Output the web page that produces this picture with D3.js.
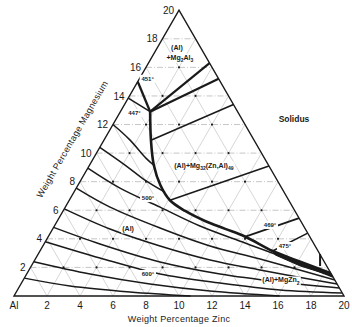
<!DOCTYPE html>
<html>
<head>
<meta charset="utf-8">
<script src="https://cdn.jsdelivr.net/npm/d3@7"></script>
<style>
  html, body { margin: 0; padding: 0; background: #fff; }
  svg { display: block; font-family: "Liberation Sans", Arial, sans-serif; }
</style>
</head>
<body>
<svg id="chart" width="352" height="327"></svg>
<script>
// Al-Zn-Mg aluminium corner: solidus projection, Zn and Mg in weight percent.
const zincTicks = [2, 4, 6, 8, 10, 12, 14, 16, 18, 20];
const magnesiumTicks = [2, 4, 6, 8, 10, 12, 14, 16, 18, 20];
const gridSteps = [2, 4, 6, 8, 10, 12, 14, 16, 18];

// Solidus isotherms in the (Al) field, [Zn, Mg] pairs, lowest first
const isotherm1 = [[0, 1.25], [3.04, 0.70], [6.89, 0.28], [10.7, 0]];
const isotherm2 = [[0, 2.4], [3.84, 1.54], [7.82, 0.84], [11.7, 0.35], [16.1, 0]];
const isotherm3 = [[0, 3.8], [3.88, 2.66], [8.08, 1.54], [12.03, 0.91], [15.91, 0.42], [19.77, 0.21]];
const isotherm4 = [[0, 4.8], [3.39, 3.64], [7.66, 2.38], [11.72, 1.54], [15.63, 0.98], [19.42, 0.56]];
const isotherm5 = [[0, 6.1], [3.47, 4.69], [7.10, 3.50], [10.62, 2.52], [14.0, 1.82], [19.16, 0.84]];
const isotherm6 = [[0, 7.55], [2.71, 6.22], [6.47, 4.76], [10.13, 3.50], [13.62, 2.59], [18.89, 1.12]];
const isotherm7 = [[0, 8.95], [2.65, 7.55], [5.74, 6.22], [8.82, 4.90], [12.15, 3.71], [14.72, 2.80], [18.67, 1.33]];
const isotherm8 = [[0, 10.4], [2.15, 9.16], [3.88, 8.11], [5.51, 7.27]];
const isotherm9 = [[0, 12.0], [1.58, 10.91], [3.17, 9.65], [3.9, 9.15]];
const isotherm10 = [[0, 13.85], [1.8, 12.9]];
const isotherms = [isotherm1, isotherm2, isotherm3, isotherm4, isotherm5,
                   isotherm6, isotherm7, isotherm8, isotherm9, isotherm10];

// Boundary of the (Al) field: 451° on the Al-Mg side, 447° ternary point, then down to the Zn side
const fieldEdge451 = [[0, 15], [1.8, 12.9]];
const fieldBoundary = [[1.8, 12.9], [2.85, 10.9], [3.9, 9.15], [5.0, 7.75], [6.1, 6.7], [7.4, 5.95],
                       [8.95, 5.25], [10.45, 4.7], [11.95, 4.15], [14.1, 3.15], [16.15, 2.4], [18.4, 1.6]];
// Eutectic trough near the Zn side
const troughBand = [[14.1, 3.15], [16.15, 2.4], [18.4, 1.6], [18.6, 1.4], [16.3, 2.1], [14.4, 2.87]];
const troughSpike = [[17.08, 2.94], [17.5, 2.1]];

// Tie lines of the (Al)+Mg32(Zn,Al)49 field: start, end and stroke weight
const tieStarts = [[1.8, 12.9], [1.8, 12.9], [2.85, 10.9], [6.1, 6.7], [11.95, 4.15], [14.1, 3.15]];
const tieEnds = [[3.7, 16.3], [4.8, 15.2], [6.6, 13.4], [10.9, 9.1], [14.55, 5.45], [15.6, 4.4]];
const tieWeights = [2.2, 2.2, 1.6, 1.6, 1.8, 1.6];

// Alloy compositions examined, grouped by Mg level
const alloyMg = [2, 4, 6, 8, 10, 12, 14, 16];
const alloyZn = [
  [2, 4, 6, 8, 10, 12, 14, 16],
  [2, 4, 6, 8, 10, 12, 14],
  [2, 4, 6, 8, 10, 12],
  [2, 4, 6, 8, 10],
  [2, 4, 6, 8],
  [2, 4, 6],
  [2, 4],
  [2]
];

// Temperature labels: text, Zn, Mg
const tempLabels = [["451°", 0.5, 15.2], ["447°", 0.9, 12.8], ["500°", 4.7, 6.85],
                    ["600°", 7.35, 1.54], ["469°", 13.03, 4.97], ["475°", 14.67, 3.5]];

const svg = d3.select("#chart");
const ox = 14, oy = 296, side = 330, tall = side * Math.sqrt(3) / 2;
const along = d3.scaleLinear().domain([0, 20]).range([0, side]);
const up = d3.scaleLinear().domain([0, 20]).range([0, tall]);
const px = (zn, mg) => ox + along(zn) + along(mg) / 2;
const py = (zn, mg) => oy - up(mg);
const line = d3.line().x(d => px(d[0], d[1])).y(d => py(d[0], d[1]));
const smooth = d3.line().x(d => px(d[0], d[1])).y(d => py(d[0], d[1])).curve(d3.curveCatmullRom.alpha(0.5));

const ink = "#1a1a1a";

// Composition grid
const grid = svg.append("g").attr("fill", "none");
gridSteps.forEach(s => {
  grid.append("path").attr("d", line([[s, 0], [s, 20 - s]]))           // constant Zn
      .attr("stroke", "#b4b4b4").attr("stroke-width", 0.55);
  grid.append("path").attr("d", line([[s, 0], [0, s]]))                // constant Al
      .attr("stroke", "#b4b4b4").attr("stroke-width", 0.55);
  grid.append("path").attr("d", line([[0, s], [20 - s, s]]))           // constant Mg
      .attr("stroke", "#a0a0a0").attr("stroke-width", 0.6).attr("stroke-dasharray", "6,2,1,2");
});

// Alloy points
const pts = svg.append("g").attr("fill", ink);
alloyMg.forEach((mg, i) => {
  alloyZn[i].forEach(zn => {
    pts.append("circle").attr("cx", px(zn, mg)).attr("cy", py(zn, mg)).attr("r", 1.1);
  });
});

// Isotherms
svg.append("g").attr("fill", "none").attr("stroke", ink).attr("stroke-width", 1.5)
  .selectAll("path").data(isotherms).join("path").attr("d", d => smooth(d));

// Tie lines
svg.append("g").attr("stroke", ink).selectAll("line").data(tieStarts).join("line")
  .attr("x1", d => px(d[0], d[1])).attr("y1", d => py(d[0], d[1]))
  .attr("x2", (d, i) => px(tieEnds[i][0], tieEnds[i][1]))
  .attr("y2", (d, i) => py(tieEnds[i][0], tieEnds[i][1]))
  .attr("stroke-width", (d, i) => tieWeights[i]);

// Field boundaries
svg.append("path").attr("d", line(fieldEdge451)).attr("fill", "none").attr("stroke", ink).attr("stroke-width", 2.4);
svg.append("path").attr("d", smooth(fieldBoundary)).attr("fill", "none").attr("stroke", ink).attr("stroke-width", 2.6);
svg.append("path").attr("d", line(troughBand) + "Z").attr("fill", ink).attr("stroke", ink).attr("stroke-width", 1);
svg.append("path").attr("d", line(troughSpike)).attr("stroke", ink).attr("stroke-width", 2);

// Triangle frame
svg.append("path").attr("d", line([[0, 0], [20, 0], [0, 20]]) + "Z")
  .attr("fill", "none").attr("stroke", ink).attr("stroke-width", 1.4);

// Axis tick labels
const tickFont = 10;
svg.append("text").attr("x", px(0, 0)).attr("y", oy + 13).attr("text-anchor", "middle")
  .attr("font-size", tickFont).attr("fill", ink).text("Al");
svg.append("g").selectAll("text").data(zincTicks).join("text")
  .attr("x", d => px(d, 0)).attr("y", oy + 13).attr("text-anchor", "middle")
  .attr("font-size", tickFont).attr("fill", ink).text(d => d);
svg.append("g").selectAll("text").data(magnesiumTicks).join("text")
  .attr("x", d => px(0, d) - 5).attr("y", d => py(0, d)).attr("dy", "0.36em")
  .attr("text-anchor", "end").attr("font-size", tickFont).attr("fill", ink).text(d => d);

// Axis titles
svg.append("text").attr("x", px(10, 0)).attr("y", oy + 26).attr("text-anchor", "middle")
  .attr("font-size", 9).attr("letter-spacing", 0.3).attr("fill", ink).text("Weight Percentage Zinc");
const mx = px(0, 10) - 28 * Math.cos(Math.PI / 6), my = py(0, 10) - 28 * Math.sin(Math.PI / 6);
svg.append("text").attr("transform", `translate(${mx},${my}) rotate(-60)`)
  .attr("text-anchor", "middle").attr("dy", "0.35em").attr("font-size", 9).attr("letter-spacing", 0.3)
  .attr("fill", ink).text("Weight Percentage Magnesium");

// Temperature labels on white patches
tempLabels.forEach(([t, zn, mg]) => {
  const g = svg.append("g").attr("transform", `translate(${px(zn, mg)},${py(zn, mg)})`);
  g.append("rect").attr("x", -8).attr("y", -4).attr("width", 16).attr("height", 8).attr("fill", "#fff");
  g.append("text").attr("text-anchor", "middle").attr("dy", "0.35em").attr("font-size", 6)
    .attr("font-weight", "bold").attr("fill", ink).text(t);
});

// Field labels with subscripts
function richLabel(zn, mg, parts, size, bg) {
  const g = svg.append("g").attr("transform", `translate(${px(zn, mg)},${py(zn, mg)})`);
  const t = g.append("text").attr("text-anchor", "middle").attr("y", size * 0.35)
    .attr("font-size", size).attr("font-weight", "bold").attr("fill", ink);
  let lowered = false;
  parts.forEach(([s, sub]) => {
    const sp = t.append("tspan").text(s);
    if (sub && !lowered) { sp.attr("font-size", size * 0.72).attr("dy", size * 0.3); lowered = true; }
    else if (sub) { sp.attr("font-size", size * 0.72); }
    else if (lowered) { sp.attr("dy", -size * 0.3); lowered = false; }
  });
  if (bg) {
    const b = t.node().getBBox();
    g.insert("rect", "text").attr("x", b.x - 1).attr("y", b.y).attr("width", b.width + 2)
      .attr("height", b.height).attr("fill", "#fff");
  }
}
richLabel(1.17, 17.41, [["(Al)"]], 7, false);
richLabel(1.7, 16.71, [["+Mg"], ["2", true], ["Al"], ["3", true]], 7, true);
richLabel(6.93, 9.16, [["(Al)+Mg"], ["32", true], ["(Zn,Al)"], ["49", true]], 7, true);
richLabel(4.57, 4.69, [["(Al)"]], 7, true);
richLabel(15.62, 1.12, [["(Al)+MgZn"], ["2", true]], 7, true);
svg.append("text").attr("x", px(10.78, 12.38)).attr("y", py(10.78, 12.38)).attr("dy", "0.35em")
  .attr("text-anchor", "middle").attr("font-size", 8.5).attr("font-weight", "bold").attr("fill", ink).text("Solidus");
</script>
</body>
</html>
